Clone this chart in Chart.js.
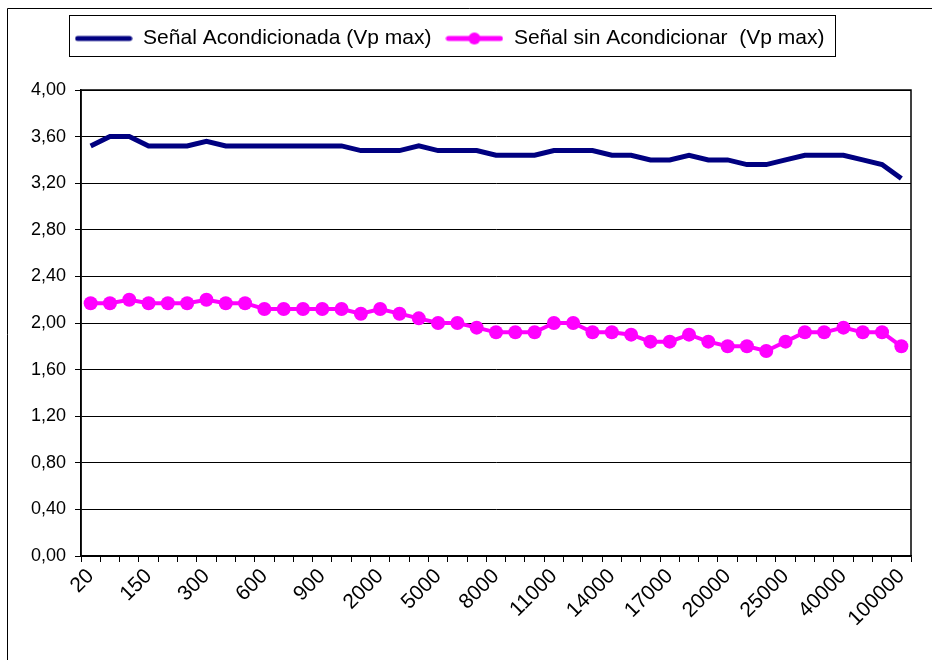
<!DOCTYPE html>
<html>
<head>
    <meta charset="UTF-8">
    <title>Señal Acondicionada vs sin Acondicionar</title>
    <script src="https://cdn.jsdelivr.net/npm/chart.js@4.4.0/dist/chart.umd.min.js"></script>
    <style>
        body { margin: 0; background: #ffffff; }
        #contenedor { width: 932px; height: 660px; }
    </style>
</head>
<body>
    <div id="contenedor">
        <canvas id="grafico" width="932" height="660"></canvas>
    </div>

    <script>
        // Frecuencias (Hz) - solo se rotula una de cada tres
        var frecuencias = ["20", "50", "100", "150", "200", "250", "300", "400", "500", "600",
            "700", "800", "900", "1000", "1500", "2000", "3000", "4000", "5000", "6000",
            "7000", "8000", "9000", "10000", "11000", "12000", "13000", "14000", "15000", "16000",
            "17000", "18000", "19000", "20000", "22000", "24000", "25000", "30000", "35000", "40000",
            "50000", "75000", "100000"];

        var acondicionada = [3.52, 3.60, 3.60, 3.52, 3.52, 3.52, 3.56, 3.52, 3.52, 3.52,
            3.52, 3.52, 3.52, 3.52, 3.48, 3.48, 3.48, 3.52, 3.48, 3.48,
            3.48, 3.44, 3.44, 3.44, 3.48, 3.48, 3.48, 3.44, 3.44, 3.40,
            3.40, 3.44, 3.40, 3.40, 3.36, 3.36, 3.40, 3.44, 3.44, 3.44,
            3.40, 3.36, 3.24];

        var sinAcondicionar = [2.17, 2.17, 2.20, 2.17, 2.17, 2.17, 2.20, 2.17, 2.17, 2.12,
            2.12, 2.12, 2.12, 2.12, 2.08, 2.12, 2.08, 2.04, 2.00, 2.00,
            1.96, 1.92, 1.92, 1.92, 2.00, 2.00, 1.92, 1.92, 1.90, 1.84,
            1.84, 1.90, 1.84, 1.80, 1.80, 1.76, 1.84, 1.92, 1.92, 1.96,
            1.92, 1.92, 1.80];

        var marcasY = [0, 0.4, 0.8, 1.2, 1.6, 2.0, 2.4, 2.8, 3.2, 3.6, 4.0];

        var fuente = "'Liberation Sans', Arial, sans-serif";

        // Simbolos de la leyenda (linea, y linea con punto)
        function simbolo(color, grosor, conPunto) {
            var c = document.createElement("canvas");
            c.width = 58;
            c.height = 16;
            var g = c.getContext("2d");
            g.strokeStyle = color;
            g.lineWidth = grosor;
            g.lineCap = "round";
            g.beginPath();
            g.moveTo(3, 8);
            g.lineTo(55, 8);
            g.stroke();
            if (conPunto) {
                g.fillStyle = color;
                g.beginPath();
                g.arc(29, 8, 6, 0, Math.PI * 2);
                g.fill();
            }
            return c;
        }
        var simboloAzul = simbolo("#000080", 5, false);
        var simboloRosa = simbolo("#FF00FF", 5, true);

        // Marco exterior, recuadro del area de trazado y de la leyenda
        var marcos = {
            id: "marcos",
            beforeInit: function(chart) {
                var fitOriginal = chart.legend.fit;
                chart.legend.fit = function() {
                    fitOriginal.call(this);
                    this.height = 76;
                };
            },
            afterLayout: function(chart) {
                // la leyenda va un poco a la izquierda
                chart.legend.left -= 10;
                chart.legend.right -= 10;
            },
            beforeDraw: function(chart) {
                var ctx = chart.ctx;
                ctx.save();
                ctx.fillStyle = "#ffffff";
                ctx.fillRect(0, 0, chart.width, chart.height);
                ctx.strokeStyle = "#000000";
                ctx.lineWidth = 1;
                ctx.beginPath();
                ctx.moveTo(7.5, chart.height);
                ctx.lineTo(7.5, 8.5);
                ctx.lineTo(chart.width, 8.5);
                ctx.stroke();
                ctx.restore();
            },
            afterDraw: function(chart) {
                var ctx = chart.ctx;
                var a = chart.chartArea;
                ctx.save();
                ctx.strokeStyle = "#000000";
                ctx.lineWidth = 1.5;
                ctx.strokeRect(a.left, a.top, a.right - a.left, a.bottom - a.top);

                var cajas = chart.legend.legendHitBoxes;
                if (cajas && cajas.length) {
                    var izq = cajas[0].left - 6;
                    var ult = cajas[cajas.length - 1];
                    var der = ult.left + ult.width + 10;
                    ctx.lineWidth = 1;
                    ctx.strokeRect(Math.round(izq) + 0.5, 15.5, Math.round(der - izq), 41);
                }
                ctx.restore();
            }
        };

        var ctx = document.getElementById("grafico").getContext("2d");
        var grafico = new Chart(ctx, {
            type: "line",
            data: {
                labels: frecuencias,
                datasets: [
                    {
                        label: "Señal Acondicionada (Vp max)",
                        data: acondicionada,
                        borderColor: "#000080",
                        backgroundColor: "#000080",
                        borderWidth: 5,
                        pointRadius: 0,
                        tension: 0
                    },
                    {
                        label: "Señal sin Acondicionar  (Vp max)",
                        data: sinAcondicionar,
                        borderColor: "#FF00FF",
                        backgroundColor: "#FF00FF",
                        borderWidth: 4,
                        pointRadius: 7,
                        pointBorderWidth: 0,
                        pointStyle: "circle",
                        tension: 0
                    }
                ]
            },
            options: {
                responsive: false,
                animation: false,
                layout: {
                    padding: { left: 8, right: 21, top: 14, bottom: 0 }
                },
                scales: {
                    x: {
                        offset: true,
                        afterFit: function(scale) { scale.height = 104; },
                        border: { display: true, color: "#000000", width: 1.5 },
                        grid: {
                            offset: true,
                            drawOnChartArea: false,
                            drawTicks: true,
                            tickLength: 6,
                            color: "#000000"
                        },
                        ticks: {
                            autoSkip: false,
                            maxRotation: 45,
                            minRotation: 45,
                            padding: 2,
                            color: "#000000",
                            font: { family: fuente, size: 21 },
                            callback: function(valor, indice) {
                                return indice % 3 === 0 ? this.getLabelForValue(valor) : "";
                            }
                        }
                    },
                    y: {
                        min: 0,
                        max: 4,
                        afterFit: function(scale) { scale.width = 73; },
                        afterBuildTicks: function(scale) {
                            scale.ticks = marcasY.map(function(v) { return { value: v }; });
                        },
                        border: { display: true, color: "#000000", width: 1.5 },
                        grid: {
                            color: "#000000",
                            lineWidth: 1,
                            drawTicks: true,
                            tickLength: 6
                        },
                        ticks: {
                            color: "#000000",
                            padding: 9,
                            font: { family: fuente, size: 18 },
                            callback: function(valor) {
                                return valor.toFixed(2).replace(".", ",");
                            }
                        }
                    }
                },
                plugins: {
                    tooltip: { enabled: false },
                    legend: {
                        position: "top",
                        labels: {
                            usePointStyle: true,
                            pointStyleWidth: 58,
                            padding: 14,
                            color: "#000000",
                            font: { family: fuente, size: 21 },
                            generateLabels: function(chart) {
                                var simbolos = [simboloAzul, simboloRosa];
                                return chart.data.datasets.map(function(ds, i) {
                                    return {
                                        text: ds.label,
                                        pointStyle: simbolos[i],
                                        fillStyle: ds.borderColor,
                                        strokeStyle: ds.borderColor,
                                        lineWidth: 0,
                                        fontColor: "#000000",
                                        datasetIndex: i
                                    };
                                });
                            }
                        }
                    }
                }
            },
            plugins: [marcos]
        });
    </script>
</body>
</html>
